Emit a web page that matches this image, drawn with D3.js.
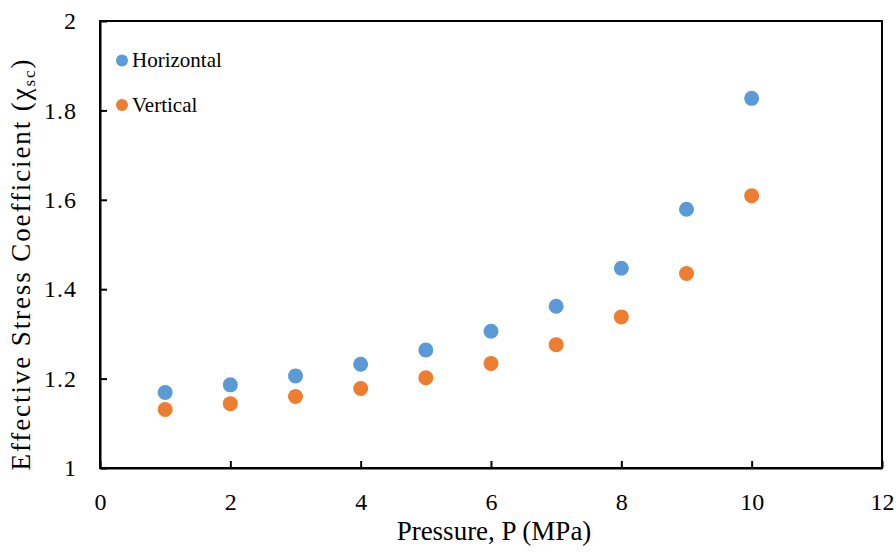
<!DOCTYPE html>
<html>
<head>
<meta charset="utf-8">
<script src="https://cdn.jsdelivr.net/npm/d3@7"></script>
</head>
<body style="margin:0;background:#fff">
<svg id="chart" width="896" height="553"></svg>
<script>
// Pressure steps (MPa)
const pressure = [1, 2, 3, 4, 5, 6, 7, 8, 9, 10];
// Effective stress coefficient per direction
const horizontal = [1.169, 1.186, 1.206, 1.232, 1.264, 1.306, 1.362, 1.447, 1.579, 1.827];
const vertical   = [1.131, 1.144, 1.160, 1.178, 1.202, 1.234, 1.276, 1.338, 1.435, 1.609];
const xTicks = [0, 2, 4, 6, 8, 10, 12];
const yTicks = [1, 1.2, 1.4, 1.6, 1.8, 2];
const seriesNames = ["Horizontal", "Vertical"];
const seriesColors = ["#5B9BD5", "#ED7D31"];

const FONT = '"Liberation Serif"';

const svg = d3.select("#chart");
const plot = { left: 100, right: 882, top: 21, bottom: 468 };

const x = d3.scaleLinear().domain([0, 12]).range([plot.left, plot.right]);
const y = d3.scaleLinear().domain([1, 2]).range([plot.bottom, plot.top]);

// Frame around the plot area
svg.append("rect")
  .attr("x", plot.left).attr("y", plot.top)
  .attr("width", plot.right - plot.left).attr("height", plot.bottom - plot.top)
  .attr("fill", "none").attr("stroke", "#000").attr("stroke-width", 2);

// X axis: ticks pointing inward
const xAxis = svg.append("g")
  .attr("transform", `translate(0,${plot.bottom})`)
  .call(d3.axisBottom(x).tickValues(xTicks).tickSizeInner(-7).tickSizeOuter(0).tickPadding(0)
    .tickFormat(d3.format("d")));
xAxis.select(".domain").attr("stroke", "#000").attr("stroke-width", 2);
xAxis.selectAll(".tick line").attr("stroke", "#000").attr("stroke-width", 2);
xAxis.selectAll(".tick text")
  .attr("y", 42).attr("dy", null)
  .attr("fill", "#000")
  .style("font-family", FONT).style("font-size", "24px");

// Y axis: ticks pointing inward
const yAxis = svg.append("g")
  .attr("transform", `translate(${plot.left},0)`)
  .call(d3.axisLeft(y).tickValues(yTicks).tickSizeInner(-7).tickSizeOuter(0).tickPadding(23)
    .tickFormat(d => d3.format("~g")(d)));
yAxis.select(".domain").attr("stroke", "#000").attr("stroke-width", 2);
yAxis.selectAll(".tick line").attr("stroke", "#000").attr("stroke-width", 2);
yAxis.selectAll(".tick text")
  .attr("fill", "#000")
  .style("font-family", FONT).style("font-size", "24px").style("letter-spacing", "1px");

// Data points
const series = [horizontal, vertical];
series.forEach((vals, i) => {
  svg.append("g").selectAll("circle")
    .data(vals.map((v, k) => ({ p: pressure[k], v })))
    .join("circle")
    .attr("cx", d => x(d.p))
    .attr("cy", d => y(d.v))
    .attr("r", 7.5)
    .attr("fill", seriesColors[i]);
});

// Legend
const legend = svg.append("g");
seriesNames.forEach((name, i) => {
  const ly = 60.5 + i * 44.5;
  legend.append("circle").attr("cx", 122).attr("cy", ly).attr("r", 6).attr("fill", seriesColors[i]);
  legend.append("text").attr("x", 132).attr("y", ly + 6.5)
    .attr("fill", "#000")
    .style("font-family", FONT).style("font-size", "21px").text(name);
});

// Axis titles
svg.append("text")
  .attr("x", 494).attr("y", 540)
  .attr("text-anchor", "middle").attr("fill", "#000")
  .style("font-family", FONT).style("font-size", "27px")
  .text("Pressure, P (MPa)");

const yTitle = svg.append("text")
  .attr("transform", "translate(30,264) rotate(-90)")
  .attr("text-anchor", "middle").attr("fill", "#000")
  .style("font-family", FONT).style("font-size", "27px")
  .style("letter-spacing", "1.9px");
yTitle.append("tspan").text("Effective Stress Coefficient (χ");
yTitle.append("tspan").style("font-size", "17px").attr("dy", 5).text("sc");
yTitle.append("tspan").attr("dy", -5).text(")");
</script>
</body>
</html>
